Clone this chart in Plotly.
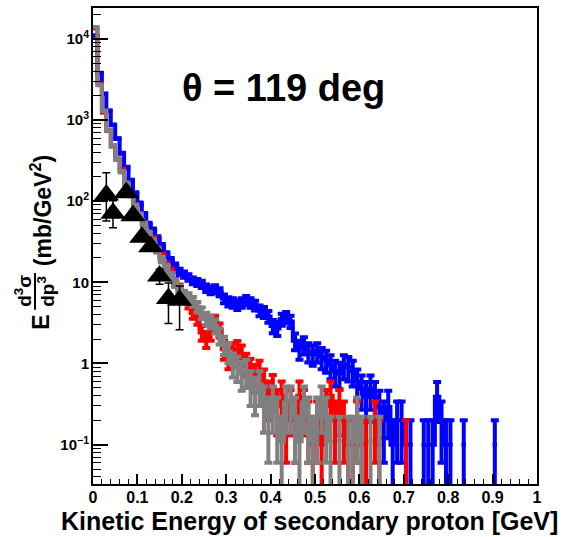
import plotly.graph_objects as go

BIN_WIDTH = 0.01

# Blue histogram (bins of 0.01 GeV starting at 0)
blue_vals = [11000, 3800, 2100, 1300, 870, 590, 390, 260, 180, 125,
             93, 69, 52, 44, 35, 28, 22, 18.6, 15.8, 13.5,
             12.5, 11.5, 10.5, 10, 9.5, 8.5, 8.0, 8.3, 7.6, 6.3,
             5.8, 5.6, 5.3, 5.6, 6.0, 5.6, 5.2, 4.5, 4.3, 3.8,
             2.9, 2.7, 3.5, 3.7, 3.3, 1.9, 1.5, 1.7, 1.4, 1.3,
             1.4, 1.2, 1.1, 0.95, 0.8, 0.75, 0.95, 0.9, 0.8, 0.6,
             0.49, 0.39, 0.49, 0.39, 0.29, 0.2, 0.29, 0.1, 0.2, 0.2,
             0.1, 0.1, 0, 0, 0.1, 0.1, 0.1, 0.39, 0.2, 0.1,
             0.1, 0, 0, 0.1, 0, 0, 0, 0, 0, 0,
             0.1, 0]
blue_errs = [33, 19, 14, 11, 9, 7.7, 6.2, 5.1, 4.2, 3.5,
             3.0, 2.6, 2.3, 2.1, 1.9, 1.7, 1.5, 1.35, 1.25, 1.15,
             1.1, 1.05, 1.0, 1.0, 0.97, 0.92, 0.89, 0.9, 0.87, 0.79,
             0.76, 0.75, 0.73, 0.75, 0.77, 0.75, 0.72, 0.67, 0.66, 0.62,
             0.54, 0.52, 0.59, 0.6, 0.57, 0.44, 0.39, 0.41, 0.37, 0.36,
             0.37, 0.35, 0.33, 0.31, 0.28, 0.27, 0.31, 0.3, 0.28, 0.24,
             0.22, 0.2, 0.22, 0.2, 0.17, 0.14, 0.17, 0.1, 0.14, 0.14,
             0.1, 0.1, 0, 0, 0.1, 0.1, 0.1, 0.2, 0.14, 0.1,
             0.1, 0, 0, 0.1, 0, 0, 0, 0, 0, 0,
             0.1, 0]

# Red histogram
red_vals = [13500, 2800, 1250, 740, 480, 330, 245, 165, 118, 88,
            68, 51, 40, 34, 25, 21, 16, 13.5, 10, 8.5,
            6.5, 5.5, 4.2, 3.6, 2.4, 2.0, 2.4, 3.3, 2.6, 1.5,
            1.2, 1.4, 1.5, 1.3, 1.0, 0.85, 0.7, 0.8, 0.6, 0.4,
            0.5, 0.3, 0.4, 0.2, 0.3, 0.2, 0.4, 0.3, 0.2, 0.1,
            0.2, 0.1, 0.3, 0.4, 0.2, 0.3, 0.2, 0.1, 0.1, 0.2,
            0.1, 0.1, 0, 0.2, 0.1, 0, 0, 0, 0, 0,
            0.1]
red_errs = [37, 17, 11, 8.6, 6.9, 5.7, 5.0, 4.1, 3.4, 3.0,
            2.6, 2.3, 2.0, 1.8, 1.6, 1.45, 1.26, 1.16, 1.0, 0.92,
            0.8, 0.74, 0.65, 0.6, 0.49, 0.45, 0.49, 0.57, 0.51, 0.39,
            0.35, 0.37, 0.39, 0.36, 0.32, 0.29, 0.26, 0.28, 0.24, 0.2,
            0.22, 0.17, 0.2, 0.14, 0.17, 0.14, 0.2, 0.17, 0.14, 0.1,
            0.14, 0.1, 0.17, 0.2, 0.14, 0.17, 0.14, 0.1, 0.1, 0.14,
            0.1, 0.1, 0, 0.14, 0.1, 0, 0, 0, 0, 0,
            0.1]

# Gray histogram
gray_vals = [14000, 2700, 1300, 750, 480, 330, 230, 165, 120, 88,
             68, 52, 40, 32, 25, 19, 15, 12, 9.8, 8.2,
             7.0, 6.5, 5.8, 5.0, 4.2, 3.6, 3.3, 2.9, 2.2, 1.7,
             1.4, 1.0, 0.9, 0.75, 0.8, 0.55, 0.45, 0.55, 0.33, 0.22,
             0.33, 0.22, 0.11, 0.33, 0.33, 0.22, 0.11, 0.33, 0.22, 0.11,
             0.22, 0.33, 0.22, 0.11, 0, 0.11, 0, 0.11, 0.11, 0.22,
             0.11, 0, 0.11, 0, 0.11]
gray_errs = [40, 17, 12, 9, 7.3, 6, 5, 4.3, 3.6, 3.1,
             2.7, 2.4, 2.1, 1.9, 1.7, 1.45, 1.3, 1.15, 1.04, 0.95,
             0.88, 0.85, 0.8, 0.74, 0.68, 0.63, 0.6, 0.56, 0.49, 0.43,
             0.39, 0.33, 0.31, 0.29, 0.3, 0.25, 0.22, 0.25, 0.19, 0.16,
             0.19, 0.16, 0.11, 0.19, 0.19, 0.16, 0.11, 0.19, 0.16, 0.11,
             0.16, 0.19, 0.16, 0.11, 0, 0.11, 0, 0.11, 0.11, 0.16,
             0.11, 0, 0.11, 0, 0.11]

# Black data points (triangles)
data_x = [0.03, 0.045, 0.075, 0.09, 0.11, 0.13, 0.15, 0.17, 0.195]
data_y = [119, 71, 127, 66, 36, 27.5, 12, 6.3, 6.0]
data_err_up = [105, 30, 15, 8, 4, 3, 2.5, 3.5, 3.0]
data_err_dn = [62, 24, 15, 8, 4, 3, 2.5, 3.2, 3.4]

y_tickvals = [0.1, 1, 10, 100, 1000, 10000]
y_ticktext = ["10<sup>\u22121</sup>", "1", "10", "10<sup>2</sup>", "10<sup>3</sup>", "10<sup>4</sup>"]
x_tickvals = [0, 0.1, 0.2, 0.3, 0.4, 0.5, 0.6, 0.7, 0.8, 0.9, 1]
x_ticktext = ["0", "0.1", "0.2", "0.3", "0.4", "0.5", "0.6", "0.7", "0.8", "0.9", "1"]

FONT = "Liberation Sans"
BLUE = "#0000ff"
RED = "#ff0000"
GRAY = "#808080"


def step_xy(vals):
    xs, ys = [], []
    for i, v in enumerate(vals):
        if v > 0:
            xs += [i * BIN_WIDTH, (i + 1) * BIN_WIDTH]
            ys += [v, v]
        else:
            xs.append(None)
            ys.append(None)
    return xs, ys


def err_points(vals, errs):
    xs, ys, es = [], [], []
    for i, (v, e) in enumerate(zip(vals, errs)):
        if v > 0:
            xs.append((i + 0.5) * BIN_WIDTH)
            ys.append(v)
            es.append(e)
    return xs, ys, es


fig = go.Figure()

for vals, errs, col in [(blue_vals, blue_errs, BLUE),
                        (red_vals, red_errs, RED),
                        (gray_vals, gray_errs, GRAY)]:
    sx, sy = step_xy(vals)
    fig.add_trace(go.Scatter(x=sx, y=sy, mode="lines",
                             line=dict(color=col, width=4),
                             connectgaps=False, hoverinfo="skip"))
    ex, ey, ee = err_points(vals, errs)
    fig.add_trace(go.Scatter(x=ex, y=ey, mode="markers",
                             marker=dict(size=2, color=col, symbol="square"),
                             error_y=dict(type="data", array=ee, symmetric=True,
                                          color=col, thickness=4, width=4),
                             hoverinfo="skip"))

fig.add_trace(go.Scatter(x=data_x, y=data_y, mode="markers",
                         marker=dict(symbol="triangle-up", size=22, color="black"),
                         error_y=dict(type="data", array=data_err_up,
                                      arrayminus=data_err_dn, symmetric=False,
                                      color="black", thickness=1.5, width=4)))

minor_y = [m * 10.0 ** e for e in range(-2, 5) for m in range(2, 10)]

fig.update_layout(
    width=562, height=537,
    margin=dict(l=93, r=25, t=6, b=53),
    paper_bgcolor="white", plot_bgcolor="white",
    showlegend=False,
    font=dict(family=FONT, color="black", size=15, weight="bold"),
    xaxis=dict(range=[0, 1], tickmode="array", tickvals=x_tickvals, ticktext=x_ticktext,
               ticks="inside", ticklen=10, tickwidth=1.5, tickcolor="black",
               minor=dict(dtick=0.02, tick0=0, ticks="inside", ticklen=5,
                          tickwidth=1.2, tickcolor="black"),
               showline=True, linecolor="black", linewidth=2, mirror=True,
               showgrid=False, zeroline=False, ticklabelstandoff=-2,
               tickfont=dict(family=FONT, size=16, weight="bold")),
    yaxis=dict(type="log", range=[-1.485, 4.38],
               tickmode="array", tickvals=y_tickvals, ticktext=y_ticktext,
               ticks="inside", ticklen=15, tickwidth=1.5, tickcolor="black",
               minor=dict(tickmode="array", tickvals=minor_y, ticks="inside",
                          ticklen=8, tickwidth=1.2, tickcolor="black"),
               showline=True, linecolor="black", linewidth=2, mirror=True,
               showgrid=False, zeroline=False, ticklabelstandoff=-1,
               tickfont=dict(family=FONT, size=15, weight="bold")),
)


def px2paper(px, py):
    return (px - 93) / 444.0, (484 - py) / 478.0


annots = []
# theta label
tx, ty = px2paper(283, 86)
annots.append(dict(x=tx, y=ty, xref="paper", yref="paper", text="\u03b8 = 119 deg",
                   showarrow=False, xanchor="center", yanchor="middle",
                   font=dict(family=FONT, size=38, weight="bold", color="black")))
# x title
xx, xy = px2paper(560, 521)
annots.append(dict(x=xx, y=xy, xref="paper", yref="paper",
                   text="Kinetic Energy of secondary proton [GeV]",
                   showarrow=False, xanchor="right", yanchor="middle",
                   font=dict(family=FONT, size=25, weight="bold", color="black")))
# y title pieces (rotated)
for text, cx, cy, size in [("(mb/GeV<sup>2</sup>)", 41, 210, 23),
                           ("E", 41, 322, 23),
                           ("d<sup>3</sup>\u03c3", 23, 290, 19),
                           ("dp<sup>3</sup>", 46, 291, 19)]:
    ax_, ay_ = px2paper(cx, cy)
    annots.append(dict(x=ax_, y=ay_, xref="paper", yref="paper", text=text,
                       showarrow=False, xanchor="center", yanchor="middle",
                       textangle=-90,
                       font=dict(family=FONT, size=size, weight="bold", color="black")))
fig.update_layout(annotations=annots)

fx0, fy0 = px2paper(35, 272)
fx1, fy1 = px2paper(35, 309)
fig.add_shape(type="line", xref="paper", yref="paper", x0=fx0, y0=fy0, x1=fx1, y1=fy1,
              line=dict(color="black", width=2))

fig.write_html("out.html",
               config={"displayModeBar": False},
               post_script="document.body.style.margin='0';document.body.style.overflow='hidden';")
